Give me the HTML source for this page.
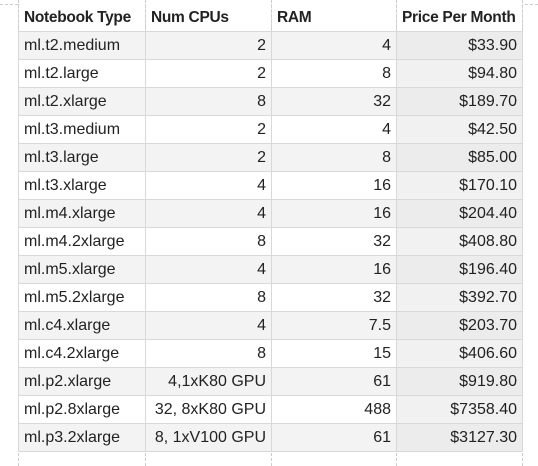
<!DOCTYPE html>
<html><head><meta charset="utf-8"><style>
body{margin:0;width:538px;height:466px;background:#fff;position:relative;overflow:hidden;font-family:"Liberation Sans",sans-serif;font-size:16px;color:#222}
.vd{position:absolute;width:0;border-left:1px dashed #ccc}
.hd{position:absolute;height:0;border-top:1px dashed #ccc}
table{position:absolute;left:18px;top:4px;width:504px;border-collapse:collapse;table-layout:fixed}
td,th{height:27px;border:1px solid #d8d8d8;padding:0 5px;white-space:nowrap;overflow:hidden}
th{text-align:left;font-weight:bold;font-size:15.5px;letter-spacing:-0.3px;border-top:none;border-left:1px dashed #d0d0d0;border-right:1px dashed #d0d0d0;background:#fff}
td.r{text-align:right}
tr.s td{background:#f3f3f3}
td.p{background:#f1f1f1}
tr.s td.p{background:#ececec}
</style></head><body>
<div class="vd" style="left:18px;top:0;height:466px"></div>
<div class="vd" style="left:145px;top:0;height:466px"></div>
<div class="vd" style="left:271px;top:0;height:466px"></div>
<div class="vd" style="left:396px;top:0;height:466px"></div>
<div class="vd" style="left:522px;top:0;height:466px"></div>
<div class="hd" style="left:0;top:4px;width:538px"></div>
<table>
<colgroup><col style="width:127px"><col style="width:126px"><col style="width:125px"><col style="width:126px"></colgroup>
<tr><th>Notebook Type</th><th>Num CPUs</th><th>RAM</th><th>Price Per Month</th></tr>
<tr class="s"><td>ml.t2.medium</td><td class="r">2</td><td class="r">4</td><td class="r p">$33.90</td></tr>
<tr><td>ml.t2.large</td><td class="r">2</td><td class="r">8</td><td class="r p">$94.80</td></tr>
<tr class="s"><td>ml.t2.xlarge</td><td class="r">8</td><td class="r">32</td><td class="r p">$189.70</td></tr>
<tr><td>ml.t3.medium</td><td class="r">2</td><td class="r">4</td><td class="r p">$42.50</td></tr>
<tr class="s"><td>ml.t3.large</td><td class="r">2</td><td class="r">8</td><td class="r p">$85.00</td></tr>
<tr><td>ml.t3.xlarge</td><td class="r">4</td><td class="r">16</td><td class="r p">$170.10</td></tr>
<tr class="s"><td>ml.m4.xlarge</td><td class="r">4</td><td class="r">16</td><td class="r p">$204.40</td></tr>
<tr><td>ml.m4.2xlarge</td><td class="r">8</td><td class="r">32</td><td class="r p">$408.80</td></tr>
<tr class="s"><td>ml.m5.xlarge</td><td class="r">4</td><td class="r">16</td><td class="r p">$196.40</td></tr>
<tr><td>ml.m5.2xlarge</td><td class="r">8</td><td class="r">32</td><td class="r p">$392.70</td></tr>
<tr class="s"><td>ml.c4.xlarge</td><td class="r">4</td><td class="r">7.5</td><td class="r p">$203.70</td></tr>
<tr><td>ml.c4.2xlarge</td><td class="r">8</td><td class="r">15</td><td class="r p">$406.60</td></tr>
<tr class="s"><td>ml.p2.xlarge</td><td class="r">4,1xK80 GPU</td><td class="r">61</td><td class="r p">$919.80</td></tr>
<tr><td>ml.p2.8xlarge</td><td class="r">32, 8xK80 GPU</td><td class="r">488</td><td class="r p">$7358.40</td></tr>
<tr class="s"><td>ml.p3.2xlarge</td><td class="r">8, 1xV100 GPU</td><td class="r">61</td><td class="r p">$3127.30</td></tr>
</table>
</body></html>
